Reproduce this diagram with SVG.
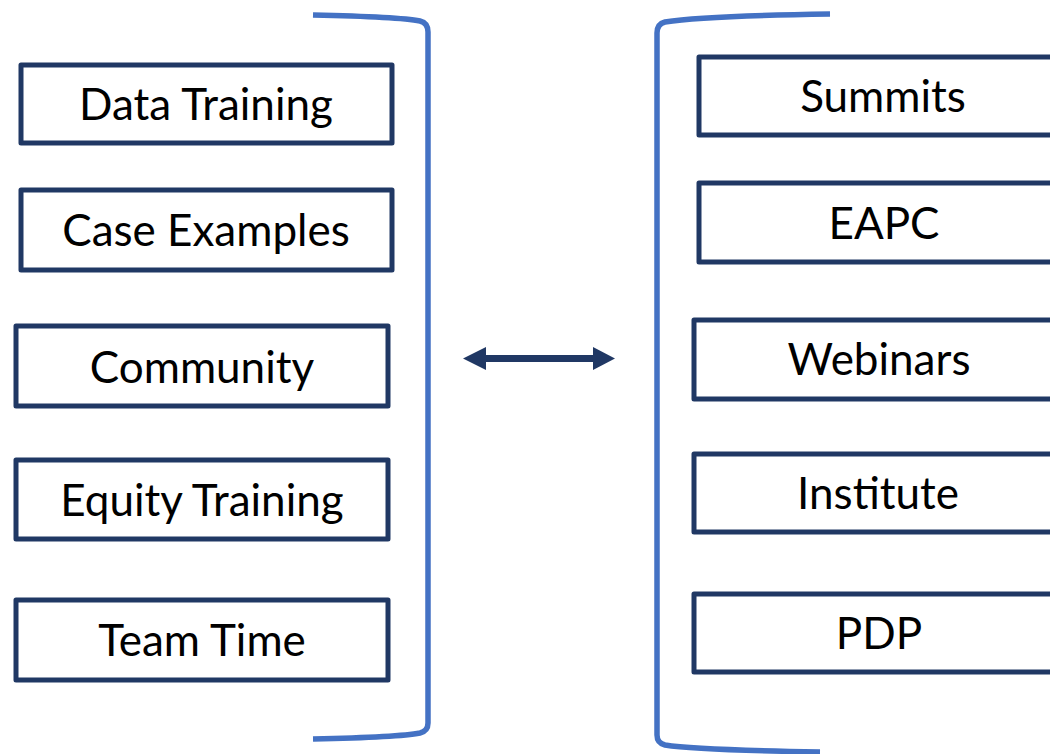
<svg xmlns="http://www.w3.org/2000/svg" width="1050" height="754" viewBox="0 0 1050 754">
<style>
.box{fill:#fff;stroke:#203864;stroke-width:5;stroke-linejoin:round}
.lbl{font-family:Lato,"Liberation Sans",sans-serif;font-size:44px;fill:#000;text-anchor:middle}
.br{fill:none;stroke:#4472C4;stroke-width:5.5}
</style>
<rect width="1050" height="754" fill="#fff"/>
<g id="brackets">
<path class="br" d="M313,15 C360,16 405,18 420,21 Q428,23 428,32 L428,723 Q428,731 420,733 C405,736 360,738 313,739"/>
<path class="br" d="M830,14 C760,15 690,18 665,22 Q657,24 657,33 L657,735 Q657,743 665,745 C690,749 760,751 820,752"/>
</g>
<g id="n1"><rect class="box" x="21" y="65" width="371" height="78"/><text class="lbl" x="206" y="120">Data Training</text></g>
<g id="n2"><rect class="box" x="21" y="190" width="371" height="80"/><text class="lbl" x="206" y="246">Case Examples</text></g>
<g id="n3"><rect class="box" x="16" y="326" width="372" height="80"/><text class="lbl" x="202" y="383">Community</text></g>
<g id="n4"><rect class="box" x="16" y="460" width="372" height="79"/><text class="lbl" x="202" y="516">Equity Training</text></g>
<g id="n5"><rect class="box" x="16" y="600" width="372" height="80"/><text class="lbl" x="202" y="656">Team Time</text></g>
<g id="n6"><rect class="box" x="699" y="57" width="370" height="78"/><text class="lbl" x="883" y="112">Summits</text></g>
<g id="n7"><rect class="box" x="699" y="183" width="370" height="79"/><text class="lbl" x="884" y="239">EAPC</text></g>
<g id="n8"><rect class="box" x="694" y="320" width="375" height="79"/><text class="lbl" x="879" y="375">Webinars</text></g>
<g id="n9"><rect class="box" x="694" y="454" width="375" height="78"/><text class="lbl" x="878" y="509">Institute</text></g>
<g id="n10"><rect class="box" x="694" y="594" width="375" height="78"/><text class="lbl" x="879" y="649">PDP</text></g>
<g id="connectors">
<path d="M463,358.5 L486,347 L486,355 L593,355 L593,347 L615,358.5 L593,370 L593,362 L486,362 L486,370 Z" fill="#203864"/>
</g>
</svg>
